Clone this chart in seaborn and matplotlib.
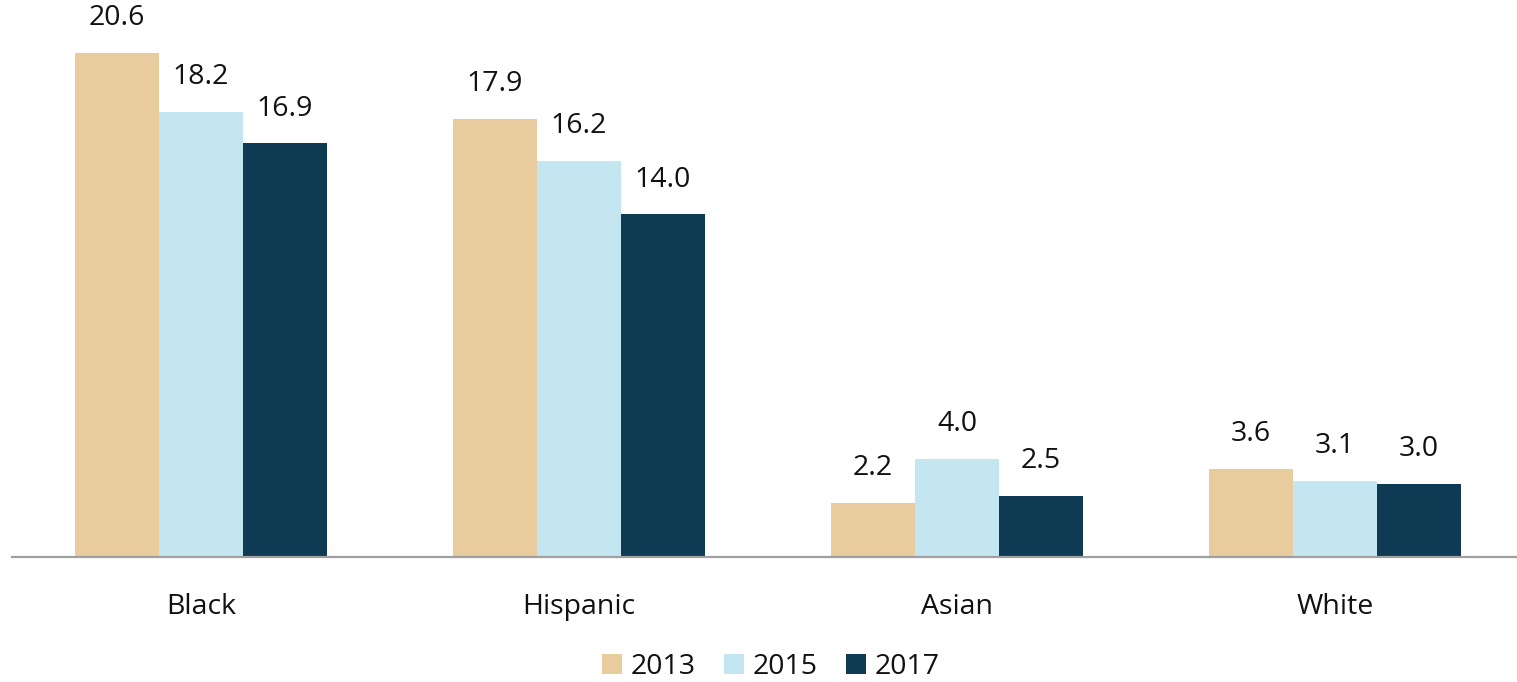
import matplotlib
matplotlib.use("Agg")
import matplotlib.pyplot as plt
import seaborn as sns
import pandas as pd

groups = ["Black", "Hispanic", "Asian", "White"]
years = ["2013", "2015", "2017"]
vals_2013 = [20.6, 17.9, 2.2, 3.6]
vals_2015 = [18.2, 16.2, 4.0, 3.1]
vals_2017 = [16.9, 14.0, 2.5, 3.0]
palette = ["#E8CC9E", "#C3E6F0", "#0E3A53"]

df = pd.DataFrame({
    "group": groups * 3,
    "year": [y for y in years for _ in groups],
    "value": vals_2013 + vals_2015 + vals_2017,
})

sns.set_theme(style="white")
plt.rcParams["font.family"] = ["Open Sans", "DejaVu Sans"]

fig = plt.figure(figsize=(15.17, 6.82), dpi=100)
ax = fig.add_axes([12 / 1517, 125 / 682, 1512 / 1517, 557 / 682])

sns.barplot(data=df, x="group", y="value", hue="year", order=groups,
            hue_order=years, palette=palette, width=0.666, saturation=1,
            errorbar=None, linewidth=0, ax=ax)

for cont in ax.containers:
    ax.bar_label(cont, fmt="%.1f", padding=15, fontsize=20.5, color="#111111")

ax.set_xlim(-0.5, 3.5)
ax.set_ylim(0, 22.76)
ax.set_xlabel("")
ax.set_ylabel("")
ax.set_yticks([])
ax.tick_params(axis="x", length=0, pad=26, labelsize=20.5, labelcolor="#111111")
for side in ["left", "right", "top"]:
    ax.spines[side].set_visible(False)
ax.spines["bottom"].set_color("#A0A0A0")
ax.spines["bottom"].set_linewidth(1.6)

leg = ax.legend(loc="center", bbox_to_anchor=(771 / 1517, 15 / 682),
                bbox_transform=fig.transFigure, ncol=3, frameon=False,
                fontsize=20.5, handlelength=0.7, handleheight=0.7,
                handletextpad=0.3, columnspacing=1.0)
for t in leg.get_texts():
    t.set_color("#111111")

fig.savefig("out.png", dpi=100)
